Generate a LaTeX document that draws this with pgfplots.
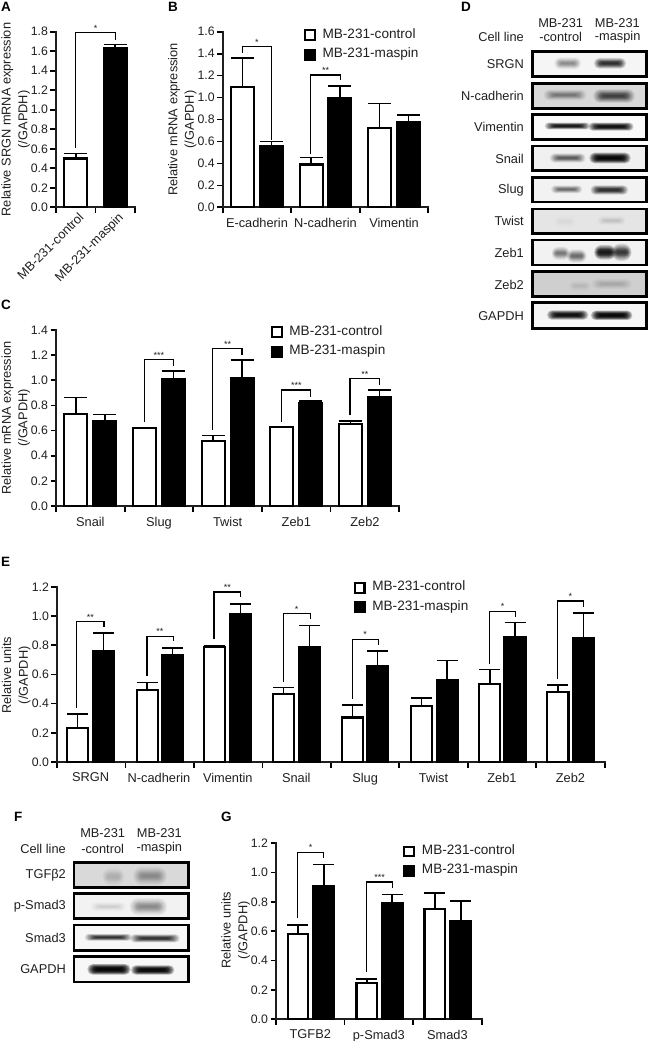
\documentclass[border=0pt]{standalone}
\usepackage{pgfplots}
\pgfplotsset{compat=1.18}
\usepackage{fontspec}
\setmainfont{Liberation Sans}
\newcommand{\lf}{\fontsize{12.8}{16.6}\selectfont}
\newcommand{\tf}{\fontsize{12.3}{14}\selectfont}
\newcommand{\lgf}{\fontsize{13.6}{16}\selectfont}
\pgfplotsset{
  panel/.style={
    scale only axis, clip=false, ymin=0,
    axis x line*=bottom, axis y line*=left,
    axis line style={line width=1.9pt,-,line cap=rect},
    tick align=outside,
    major tick length=5.5pt, minor tick length=5.5pt,
    tick style={black,line width=1.7pt},
    major x tick style={draw=none},
    tick label style={font=\tf},
    xticklabel style={font=\lf},
    label style={font=\lf},
    yticklabel style={xshift=1pt,/pgf/number format/.cd,fixed,fixed zerofill,precision=1,assume math mode=true},
    xticklabel style={yshift=-1.7pt},
    ylabel style={align=center,anchor=center,rotate=0},
    legend cell align=left,
    legend image code/.code={\path[draw=none,fill=none] (0,0) rectangle (18.6pt,0.1pt);\draw[##1,line width=2.1pt] (1pt,-4.8pt) rectangle (10.8pt,5pt);},
  },
  lgd/.style 2 args={legend style={at={(#1,#2)},anchor=north west,draw=none,fill=none,font=\lgf,
     inner sep=0pt,outer sep=0pt,row sep=5pt,
     nodes={inner sep=0pt,text height=10pt,text depth=4.5pt},
     /tikz/every even column/.append style={column sep=0pt}}},
  eb/.style={error bars/.cd,y dir=plus,y explicit,
     error bar style={line width=1.7pt,black},
     error mark options={rotate=90,mark size=#1,line width=1.7pt,black}},
  ctrl/.style 2 args={ybar,bar shift=0pt,bar width=#1,draw=black,fill=white,line width=2.1pt,eb=#2},
  masp/.style 2 args={ybar,bar shift=0pt,bar width=#1,draw=black,fill=black,line width=2.1pt,eb=#2},
}
\newcommand{\br}[8]{%
  \addplot[forget plot,sharp plot,black,line width=1.4pt,mark=none] coordinates {(#1,#2)(#1,#3)(#4,#3)(#4,#5)};
  \node[font=\fontsize{9}{10}\selectfont,anchor=base,yshift=-5pt,inner sep=0pt] at (axis cs:#6,#7) {#8};
}
\newcommand{\band}[5]{%
  \pgfmathsetmacro{\op}{1-(1-#5)^(0.08333)}%
  \foreach \s/\w in {2.0/1.35,1.75/1.27,1.5/1.2,1.3/1.13,1.15/1.07,1.0/1.02,0.9/0.97,0.8/0.92,0.65/0.86,0.5/0.8,0.35/0.72,0.2/0.64}{%
    \pgfmathsetmacro{\rr}{#4*\s/3}%
    \fill[black,fill opacity=\op,rounded corners=\rr pt] ({#1-#3*\w},{#2-#4*\s}) rectangle ({#1+#3*\w},{#2+#4*\s});}%
}
\newcommand{\blot}[6]{%
  \begin{scope}\clip (#1,#2) rectangle (#3,#4);
    \fill[black!#5] (#1,#2) rectangle (#3,#4);
    #6
  \end{scope}
  \draw[black,line width=2.4pt] (#1,#2) rectangle (#3,#4);
}
\begin{document}
\color{black!88}%
\begin{tikzpicture}
\path[use as bounding box] (0,0) rectangle (648pt,-1041pt);

% ---------- A
\begin{axis}[panel,at={(56pt,-207.3pt)},anchor=south west,width=79pt,height=175.6pt,
  xmin=0,xmax=2,ymax=1.8,ytick={0,0.2,...,1.8},
  xtick={0.5,1.5},minor xtick={0,1,2},
  xticklabels={MB-231-control,MB-231-maspin},
  xticklabel style={rotate=45,anchor=north east,yshift=4pt,xshift=7pt},
  ylabel={Relative SRGN mRNA expression\\(/GAPDH)},
  ylabel style={at={(axis description cs:-0.51,0.5)}}]
\addplot[ctrl={23pt}{11.5pt}] coordinates {(0.5,0.50) +- (0,0.05)};
\addplot[masp={23pt}{11.5pt}] coordinates {(1.5,1.63) +- (0,0.04)};
\br{0.5}{0.605}{1.79}{1.5}{1.72}{1}{1.858}{*}
\end{axis}

% ---------- B
\begin{axis}[panel,at={(222.7pt,-207.3pt)},anchor=south west,width=205.6pt,height=175.6pt,
  xmin=0,xmax=3,ymax=1.6,ytick={0,0.2,...,1.6},
  xtick={0.5,1.5,2.5},minor xtick={0,1,2,3},
  xticklabels={E-cadherin,N-cadherin,Vimentin},
  ylabel={Relative mRNA expression\\(/GAPDH)},
  ylabel style={at={(axis description cs:-0.1965,0.5)}},
  lgd={0.395}{1.021}]
\addplot[forget plot,ctrl={23pt}{11.5pt}] coordinates {(0.29,1.10) +- (0,0.26) (1.29,0.39) +- (0,0.065) (2.29,0.72) +- (0,0.225)};
\addplot[forget plot,masp={23pt}{11.5pt}] coordinates {(0.71,0.56) +- (0,0.04) (1.71,1.00) +- (0,0.105) (2.71,0.775) +- (0,0.065)};
\addlegendimage{draw=black,fill=white}\addlegendentry{MB-231-control}
\addlegendimage{draw=black,fill=black}\addlegendentry{MB-231-maspin}
\br{0.29}{1.41}{1.463}{0.715}{0.613}{0.5}{1.524}{*}
\br{1.285}{0.486}{1.205}{1.715}{1.16}{1.5}{1.266}{**}
\end{axis}

% ---------- C
\begin{axis}[panel,at={(56pt,-506pt)},anchor=south west,width=343.3pt,height=176pt,
  xmin=0,xmax=5,ymax=1.4,ytick={0,0.2,...,1.4},
  xtick={0.5,1.5,2.5,3.5,4.5},minor xtick={0,1,2,3,4,5},
  xticklabels={Snail,Slug,Twist,Zeb1,Zeb2},
  ylabel={Relative mRNA expression\\(/GAPDH)},
  ylabel style={at={(axis description cs:-0.117,0.5)}},
  lgd={0.6254}{1.028}]
\addplot[forget plot,ctrl={23pt}{11.5pt}] coordinates {(0.29,0.73) +- (0,0.132) (1.29,0.62) +- (0,0) (2.29,0.515) +- (0,0.045) (3.29,0.625) +- (0,0.005) (4.29,0.65) +- (0,0.026)};
\addplot[forget plot,masp={23pt}{11.5pt}] coordinates {(0.71,0.675) +- (0,0.052) (1.71,1.01) +- (0,0.064) (2.71,1.015) +- (0,0.146) (3.71,0.82) +- (0,0.015) (4.71,0.865) +- (0,0.06)};
\addlegendimage{draw=black,fill=white}\addlegendentry{MB-231-control}
\addlegendimage{draw=black,fill=black}\addlegendentry{MB-231-maspin}
\br{1.286}{0.666}{1.164}{1.714}{1.114}{1.5}{1.214}{***}
\br{2.28}{0.605}{1.252}{2.71}{1.2}{2.5}{1.302}{**}
\br{3.28}{0.671}{0.923}{3.71}{0.87}{3.5}{0.973}{***}
\br{4.28}{0.721}{1.013}{4.71}{0.963}{4.5}{1.063}{**}
\end{axis}

% ---------- E
\begin{axis}[panel,at={(57pt,-762pt)},anchor=south west,width=547.7pt,height=175.3pt,
  xmin=0,xmax=8,ymax=1.2,ytick={0,0.2,...,1.2},
  xtick={0.49,1.49,2.495,3.495,4.5,5.5,6.5,7.5},minor xtick={0,1,2,3,4,5,6,7,8},
  xticklabels={SRGN,N-cadherin,Vimentin,Snail,Slug,Twist,Zeb1,Zeb2},
  ylabel={Relative units\\(/GAPDH)},
  ylabel style={at={(axis description cs:-0.0746,0.495)}},
  lgd={0.5417}{1.034}]
\addplot[forget plot,ctrl={21.2pt}{10.5pt}] coordinates {(0.30,0.23) +- (0,0.099) (1.317,0.49) +- (0,0.055) (2.30,0.79) +- (0,0.006) (3.31,0.465) +- (0,0.046) (4.315,0.305) +- (0,0.087) (5.325,0.385) +- (0,0.055) (6.32,0.535) +- (0,0.099) (7.317,0.48) +- (0,0.045)};
\addplot[forget plot,masp={21.2pt}{10.5pt}] coordinates {(0.68,0.76) +- (0,0.123) (1.688,0.735) +- (0,0.045) (2.68,1.01) +- (0,0.074) (3.69,0.785) +- (0,0.15) (4.683,0.66) +- (0,0.102) (5.70,0.558) +- (0,0.136) (6.69,0.855) +- (0,0.099) (7.69,0.848) +- (0,0.172)};
\addlegendimage{draw=black,fill=white}\addlegendentry{MB-231-control}
\addlegendimage{draw=black,fill=black}\addlegendentry{MB-231-maspin}
\br{0.288}{0.367}{0.963}{0.688}{0.926}{0.488}{1.006}{**}
\br{1.312}{0.589}{0.86}{1.698}{0.828}{1.502}{0.908}{**}
\br{2.293}{0.84}{1.164}{2.683}{1.127}{2.488}{1.209}{**}
\br{3.307}{0.55}{1.017}{3.70}{0.976}{3.5}{1.061}{*}
\br{4.317}{0.434}{0.837}{4.693}{0.80}{4.5}{0.885}{*}
\br{6.317}{0.671}{1.031}{6.70}{0.995}{6.51}{1.079}{*}
\br{7.312}{0.566}{1.102}{7.693}{1.063}{7.5}{1.148}{*}
\end{axis}

% ---------- G
\begin{axis}[panel,at={(276pt,-1019.3pt)},anchor=south west,width=205.7pt,height=176pt,
  xmin=0,xmax=3,ymax=1.2,ytick={0,0.2,...,1.2},
  xtick={0.5,1.5,2.5},minor xtick={0,1,2,3},
  xticklabels={TGFB2,p-Smad3,Smad3},
  ylabel={Relative units\\(/GAPDH)},
  ylabel style={at={(axis description cs:-0.196,0.506)}},
  lgd={0.619}{0.994}]
\addplot[forget plot,ctrl={20.7pt}{10.5pt}] coordinates {(0.32,0.58) +- (0,0.063) (1.325,0.25) +- (0,0.027) (2.316,0.75) +- (0,0.111)};
\addplot[forget plot,masp={20.7pt}{10.5pt}] coordinates {(0.695,0.91) +- (0,0.145) (1.695,0.79) +- (0,0.06) (2.695,0.67) +- (0,0.136)};
\addlegendimage{draw=black,fill=white}\addlegendentry{MB-231-control}
\addlegendimage{draw=black,fill=black}\addlegendentry{MB-231-maspin}
\br{0.316}{0.689}{1.139}{0.695}{1.098}{0.506}{1.186}{*}
\br{1.32}{0.32}{0.936}{1.70}{0.898}{1.51}{0.982}{***}
\end{axis}

% ---------- panel letters
\begin{scope}[x=1pt,y=-1pt,every node/.style={font=\fontsize{13.5}{14}\bfseries\selectfont,inner sep=0pt,anchor=west,text=black}]
\node at (1,7) {A};
\node at (168,7) {B};
\node at (1,305) {C};
\node at (461,7) {D};
\node at (1,561.5) {E};
\node at (14,817) {F};
\node at (221,817) {G};
\end{scope}

% ---------- blots D (coordinates: 3 units = 1 px, from x=440)
\begin{scope}[shift={(440pt,0pt)},x=0.33333pt,y=-0.33333pt]
\blot{278}{155}{620}{230}{4}{\band{383}{190}{30}{9}{0.4}\band{510}{190}{36}{8}{0.8}}
\blot{278}{250}{620}{325}{15}{\band{375}{285}{48}{8}{0.45}\band{522}{288}{46}{10}{0.7}}
\blot{278}{343}{620}{418}{2}{\band{382}{378}{50}{5}{0.9}\band{513}{380}{50}{6}{0.93}}
\blot{278}{438}{620}{512}{6}{\band{383}{474}{40}{7}{0.6}\band{510}{474}{46}{8}{0.96}}
\blot{278}{532}{620}{606}{5}{\band{380}{568}{35}{6}{0.55}\band{508}{570}{42}{7}{0.8}}
\blot{278}{627}{620}{700}{10}{\band{375}{665}{25}{9}{0.07}\band{515}{662}{32}{7}{0.13}}
\blot{278}{720}{620}{795}{5}{\band{362}{760}{20}{10}{0.5}\band{410}{768}{22}{10}{0.55}\band{495}{757}{24}{11}{0.9}\band{545}{757}{22}{13}{0.75}}
\blot{278}{815}{620}{890}{19}{\band{420}{858}{25}{8}{0.08}\band{515}{852}{46}{8}{0.18}}
\blot{278}{908}{620}{985}{4}{\band{383}{945}{46}{7}{0.93}\band{515}{946}{46}{7}{0.96}}
\begin{scope}[every node/.style={font=\lf,inner sep=0pt}]
\foreach \t/\y in {SRGN/191,N-cadherin/288,Vimentin/381,Snail/476,Slug/570,Twist/664,Zeb1/760,Zeb2/855,GAPDH/947,Cell line/112}
  \node[anchor=east] at (252,\y) {\t};
\node at (362,68) {MB-231};
\node at (362,112) {-control};
\node at (532,68) {MB-231};
\node at (533,112) {-maspin};
\end{scope}
\end{scope}

% ---------- blots F
\begin{scope}[shift={(0pt,-810pt)},x=0.33333pt,y=-0.33333pt]
\blot{222}{157}{566}{232}{15}{\band{340}{200}{25}{14}{0.18}\band{450}{198}{38}{14}{0.35}}
\blot{222}{250}{566}{326}{5}{\band{325}{290}{40}{7}{0.15}\band{445}{290}{42}{13}{0.4}}
\blot{222}{345}{566}{421}{3}{\band{325}{382}{52}{5}{0.8}\band{465}{385}{55}{6}{0.8}}
\blot{222}{440}{566}{516}{3}{\band{327}{478}{48}{8}{0.97}\band{458}{480}{48}{7}{0.96}}
\begin{scope}[every node/.style={font=\lf,inner sep=0pt}]
\foreach \t/\y in {TGFβ2/195,p-Smad3/289,Smad3/384,GAPDH/478,Cell line/116}
  \node[anchor=east] at (198,\y) {\t};
\node at (308,70) {MB-231};
\node at (308,116) {-control};
\node at (478,70) {MB-231};
\node at (478,116) {-maspin};
\end{scope}
\end{scope}
\end{tikzpicture}
\end{document}
